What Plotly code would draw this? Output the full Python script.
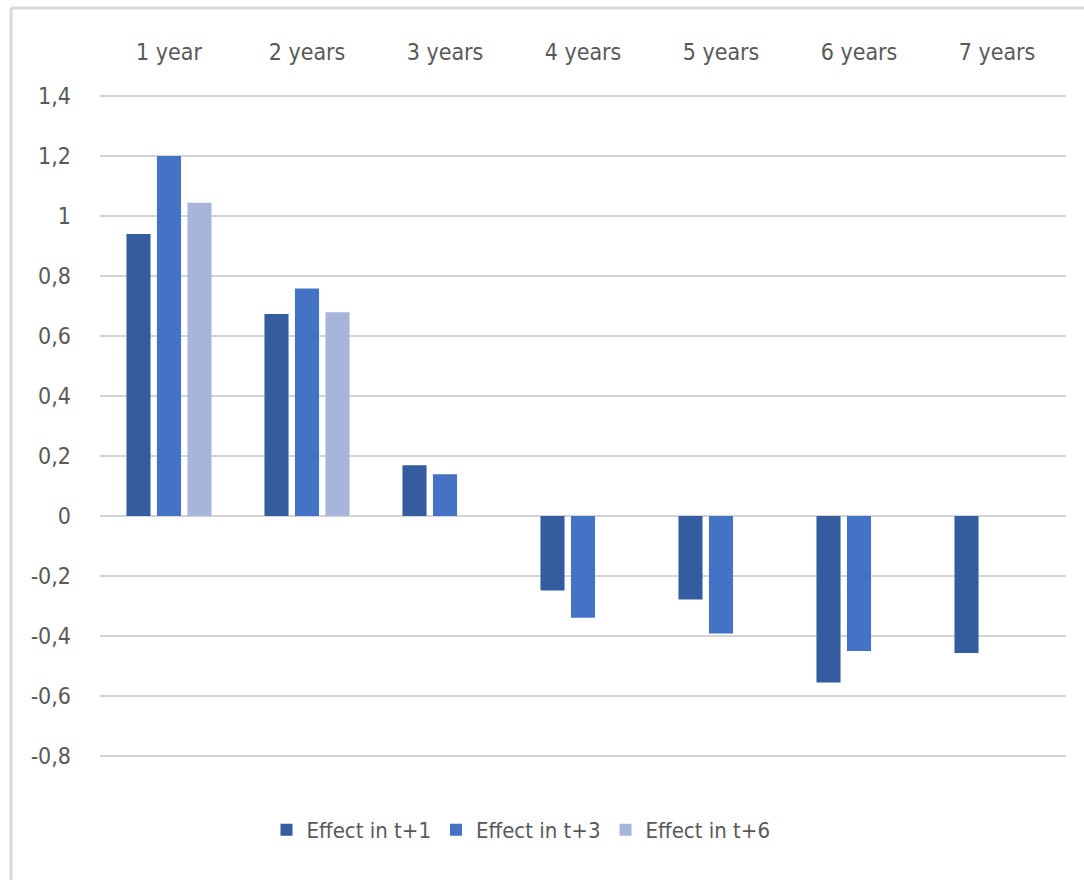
import plotly.graph_objects as go

categories = ["1 year", "2 years", "3 years", "4 years", "5 years", "6 years", "7 years"]
effect_t1 = [0.94, 0.673, 0.169, -0.248, -0.278, -0.555, -0.457]
effect_t3 = [1.2, 0.758, 0.139, -0.339, -0.392, -0.45, None]
effect_t6 = [1.044, 0.679, None, None, None, None, None]
series_names = ["Effect in t+1", "Effect in t+3", "Effect in t+6"]
colors = ["#345C9F", "#4472C4", "#A7B5DB"]
ytick_vals = [1.4, 1.2, 1.0, 0.8, 0.6, 0.4, 0.2, 0.0, -0.2, -0.4, -0.6, -0.8]
ytick_text = ["1,4", "1,2", "1", "0,8", "0,6", "0,4", "0,2", "0", "-0,2", "-0,4", "-0,6", "-0,8"]

FONT = "DejaVu Sans Condensed, Liberation Sans Narrow, Lato, sans-serif"
TXT = "#595959"
FS = 23

fig = go.Figure()
for name, vals, col in zip(series_names, [effect_t1, effect_t3, effect_t6], colors):
    fig.add_trace(go.Bar(x=categories, y=vals, name=name, marker=dict(color=col, line=dict(width=0))))

W, H = 1084, 880
L, R, T, B = 100, 18, 94, 122
pw, ph = W - L - R, H - T - B
pad = 0.2 / 60 * 2  # extend range by 2px so edge gridlines are drawn

def px_x(x):
    return (x - L) / pw

def px_y(y):
    return (H - B - y) / ph

fig.update_layout(
    width=W, height=H,
    margin=dict(l=L, r=R, t=T, b=B, pad=0),
    paper_bgcolor="white", plot_bgcolor="white",
    barmode="group", bargap=0.337, bargroupgap=0.21,
    font=dict(family=FONT, size=FS, color=TXT),
    showlegend=True,
    legend=dict(orientation="h", x=px_x(521), xanchor="center", y=px_y(830), yanchor="middle",
                font=dict(family=FONT, size=22, color=TXT),
                traceorder="normal", itemwidth=30),
    xaxis=dict(side="top", showgrid=False, showline=False, zeroline=False, ticks="",
               ticklabelstandoff=28, tickfont=dict(family=FONT, size=FS, color=TXT)),
    yaxis=dict(range=[-0.8 - pad, 1.4 + pad], tickvals=ytick_vals, ticktext=ytick_text,
               showgrid=True, gridcolor="#D4D4D4", gridwidth=2,
               zeroline=True, zerolinecolor="#D4D4D4", zerolinewidth=2,
               showline=False, ticks="", ticklabelstandoff=28,
               tickfont=dict(family=FONT, size=FS, color=TXT)),
    shapes=[
        dict(type="line", xref="paper", yref="paper", x0=px_x(11), x1=px_x(11), y0=px_y(900), y1=px_y(8),
             line=dict(color="#D9D9D9", width=3)),
        dict(type="line", xref="paper", yref="paper", x0=px_x(11), x1=px_x(1100), y0=px_y(8), y1=px_y(8),
             line=dict(color="#D9D9D9", width=3)),
    ],
)

fig.write_html("out.html")
